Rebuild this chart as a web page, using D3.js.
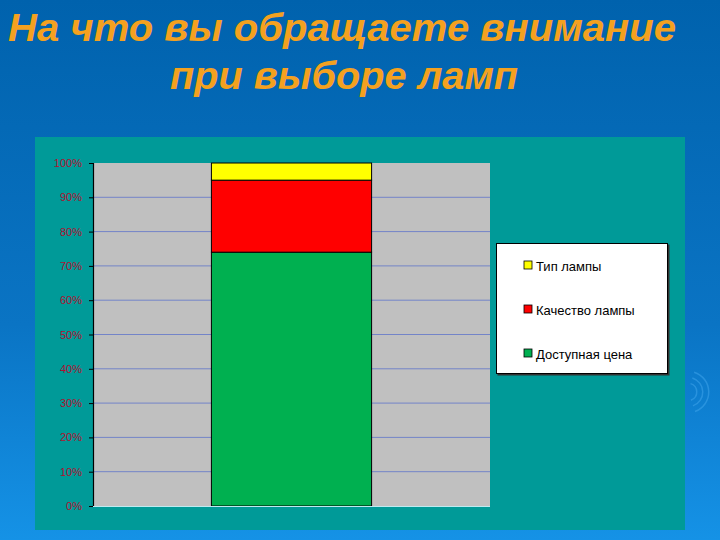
<!DOCTYPE html>
<html><head><meta charset="utf-8">
<script src="https://cdn.jsdelivr.net/npm/d3@7"></script>
<style>html,body{margin:0;padding:0;overflow:hidden;}</style>
</head><body>
<svg id="c" width="720" height="540"></svg>
<script>
const categories = ["Ответ"];
const seriesNames = ["Доступная цена", "Качество лампы", "Тип лампы"];
const seriesValues = [74, 21, 5];
const seriesColors = ["#00b050", "#ff0000", "#ffff00"];
const tickValues = [0, 10, 20, 30, 40, 50, 60, 70, 80, 90, 100];
const tickLabels = ["0%", "10%", "20%", "30%", "40%", "50%", "60%", "70%", "80%", "90%", "100%"];
const titleLines = ["На что вы обращаете внимание", "при выборе ламп"];

(function(){
const svg = d3.select("#c");
const defs = svg.append("defs");
const g = defs.append("linearGradient").attr("id","bg").attr("x1",0).attr("y1",0).attr("x2",0).attr("y2",1);
g.append("stop").attr("offset","0%").attr("stop-color","#0062ad");
g.append("stop").attr("offset","60%").attr("stop-color","#0a74c4");
g.append("stop").attr("offset","100%").attr("stop-color","#1592e6");
svg.append("rect").attr("width",720).attr("height",540).attr("fill","url(#bg)");

[8,14,20].forEach(r=>{
  svg.append("path").attr("d",d3.arc()({innerRadius:r,outerRadius:r+1.5,startAngle:0.3,endAngle:2.8}))
    .attr("transform","translate(688,392)").attr("fill","#3aa0e8").attr("opacity",0.6);
});

const titleSpec = [{x:342, y:41, w:668},{x:344, y:89, w:348}];
svg.append("g").selectAll("text").data(titleLines).join("text")
  .attr("x",(d,i)=>titleSpec[i].x).attr("y",(d,i)=>titleSpec[i].y)
  .attr("text-anchor","middle")
  .attr("textLength",(d,i)=>titleSpec[i].w).attr("lengthAdjust","spacingAndGlyphs")
  .attr("font-family","Liberation Sans, Arial, sans-serif")
  .attr("font-weight","bold").attr("font-style","italic")
  .attr("font-size",38).attr("fill","#f4a11f")
  .text(d=>d);

svg.append("rect").attr("x",35).attr("y",137).attr("width",650).attr("height",393).attr("fill","#009a98");

const pL=93, pR=490, pT=163, pB=506;
const y = d3.scaleLinear().domain([0,100]).range([pB,pT]);
const x = d3.scaleBand().domain(categories).range([pL,pR]).paddingInner(0.425).paddingOuter(0.425);

svg.append("rect").attr("x",pL).attr("y",pT).attr("width",pR-pL).attr("height",pB-pT).attr("fill","#c0c0c0");

svg.append("g").selectAll("line").data(tickValues.filter(v=>v>0&&v<100)).join("line")
  .attr("x1",pL).attr("x2",pR).attr("y1",d=>y(d)).attr("y2",d=>y(d))
  .attr("stroke","#7384c8").attr("stroke-width",1);

const stackData = [Object.fromEntries([["cat",categories[0]],...seriesNames.map((n,i)=>[n,seriesValues[i]])])];
const stacked = d3.stack().keys(seriesNames)(stackData);
svg.append("g").selectAll("rect").data(stacked).join("rect")
  .attr("x",x(categories[0])).attr("width",x.bandwidth())
  .attr("y",d=>y(d[0][1])).attr("height",d=>y(d[0][0])-y(d[0][1]))
  .attr("fill",(d,i)=>seriesColors[i]).attr("stroke","#000").attr("stroke-width",1);

const yAxis = d3.axisLeft(y).tickValues(tickValues).tickFormat((d,i)=>tickLabels[i]).tickSize(4).tickPadding(7);
const ya = svg.append("g").attr("transform",`translate(${pL},0)`).call(yAxis);
ya.select(".domain").attr("stroke","#000").attr("stroke-width",1.2);
ya.selectAll(".tick line").attr("stroke","#000");
ya.selectAll(".tick text").attr("fill","#b01030").attr("font-family","Liberation Sans, Arial, sans-serif").attr("font-size",11);

svg.append("line").attr("x1",pL).attr("x2",pR).attr("y1",pB+0.5).attr("y2",pB+0.5).attr("stroke","#bfeaf0").attr("stroke-width",1);

const lg = svg.append("g");
lg.append("rect").attr("x",497.5).attr("y",244.5).attr("width",172).attr("height",131).attr("fill","#333");
lg.append("rect").attr("x",496.5).attr("y",243.5).attr("width",171).attr("height",130).attr("fill","#fff").attr("stroke","#000").attr("stroke-width",1);
const legendOrder = [2,1,0];
const items = lg.selectAll("g.it").data(legendOrder).join("g").attr("class","it")
  .attr("transform",(d,i)=>`translate(524,${266+i*44})`);
items.append("rect").attr("x",0).attr("y",-5).attr("width",8).attr("height",8)
  .attr("fill",d=>seriesColors[d]).attr("stroke","#000").attr("stroke-width",0.8);
items.append("text").attr("x",12).attr("y",4.5).attr("font-family","Liberation Sans, Arial, sans-serif")
  .attr("font-size",13).attr("fill","#000").text(d=>seriesNames[d]);
})();
</script>
</body></html>
